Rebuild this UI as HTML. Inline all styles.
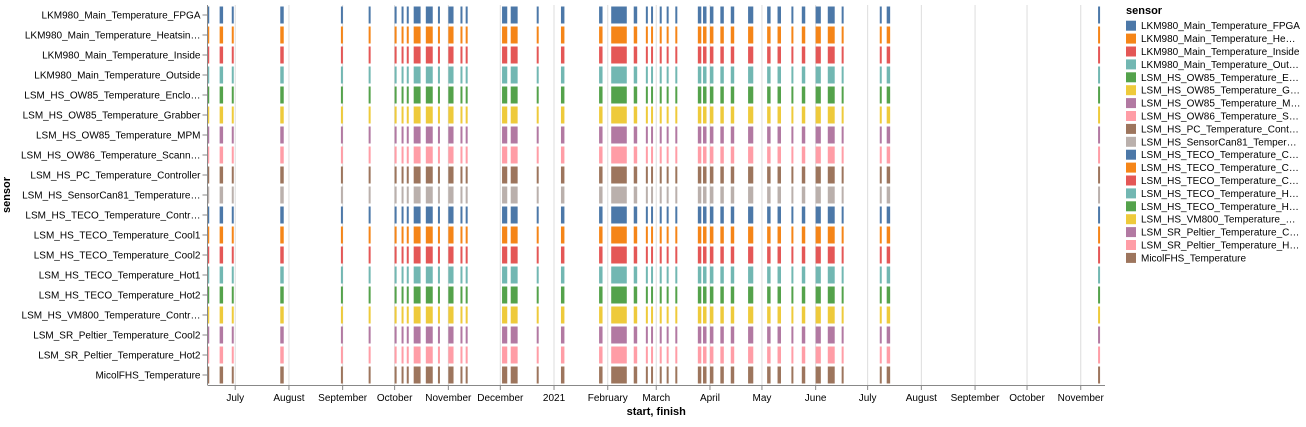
<!DOCTYPE html>
<html><head><meta charset="utf-8">
<style>
body{margin:0;background:#fff;font-family:"Liberation Sans",Arial,sans-serif;}
svg text{font-family:"Liberation Sans",Arial,sans-serif;}
</style></head>
<body>
<svg id="chart" width="1306" height="422" xmlns="http://www.w3.org/2000/svg"></svg>
<script>
const sensors = ["LKM980_Main_Temperature_FPGA","LKM980_Main_Temperature_Heatsin…","LKM980_Main_Temperature_Inside","LKM980_Main_Temperature_Outside","LSM_HS_OW85_Temperature_Enclo…","LSM_HS_OW85_Temperature_Grabber","LSM_HS_OW85_Temperature_MPM","LSM_HS_OW86_Temperature_Scann…","LSM_HS_PC_Temperature_Controller","LSM_HS_SensorCan81_Temperature…","LSM_HS_TECO_Temperature_Contr…","LSM_HS_TECO_Temperature_Cool1","LSM_HS_TECO_Temperature_Cool2","LSM_HS_TECO_Temperature_Hot1","LSM_HS_TECO_Temperature_Hot2","LSM_HS_VM800_Temperature_Contr…","LSM_SR_Peltier_Temperature_Cool2","LSM_SR_Peltier_Temperature_Hot2","MicolFHS_Temperature"];
const legendLabels = ["LKM980_Main_Temperature_FPGA","LKM980_Main_Temperature_He…","LKM980_Main_Temperature_Inside","LKM980_Main_Temperature_Out…","LSM_HS_OW85_Temperature_E…","LSM_HS_OW85_Temperature_G…","LSM_HS_OW85_Temperature_M…","LSM_HS_OW86_Temperature_S…","LSM_HS_PC_Temperature_Cont…","LSM_HS_SensorCan81_Temper…","LSM_HS_TECO_Temperature_C…","LSM_HS_TECO_Temperature_C…","LSM_HS_TECO_Temperature_C…","LSM_HS_TECO_Temperature_H…","LSM_HS_TECO_Temperature_H…","LSM_HS_VM800_Temperature_…","LSM_SR_Peltier_Temperature_C…","LSM_SR_Peltier_Temperature_H…","MicolFHS_Temperature"];
const palette = ["#4c78a8","#f58518","#e45756","#72b7b2","#54a24b","#eeca3b","#b279a2","#ff9da6","#9d755d","#bab0ac"];
const starts = ["2020-06-14","2020-06-22","2020-06-29","2020-07-27","2020-08-31","2020-09-16","2020-10-01","2020-10-05","2020-10-08","2020-10-12","2020-10-19","2020-10-26","2020-11-01","2020-11-08","2020-11-11","2020-12-02","2020-12-07","2020-12-22","2021-01-05","2021-01-27","2021-02-03","2021-02-16","2021-02-23","2021-02-26","2021-03-03","2021-03-07","2021-03-12","2021-03-25","2021-03-28","2021-04-01","2021-04-07","2021-04-13","2021-04-23","2021-05-04","2021-05-10","2021-05-18","2021-05-24","2021-06-01","2021-06-08","2021-06-16","2021-07-08","2021-07-12","2021-11-11"];
const finishes = ["2020-06-16","2020-06-24","2020-06-30","2020-07-29","2020-09-01","2020-09-17","2020-10-02","2020-10-06","2020-10-09","2020-10-16","2020-10-23","2020-10-27","2020-11-04","2020-11-09","2020-11-12","2020-12-05","2020-12-11","2020-12-23","2021-01-07","2021-01-29","2021-02-12","2021-02-18","2021-02-24","2021-02-27","2021-03-04","2021-03-08","2021-03-13","2021-03-27","2021-03-30","2021-04-03","2021-04-09","2021-04-15","2021-04-26","2021-05-06","2021-05-12","2021-05-19","2021-05-26","2021-06-04","2021-06-12","2021-06-17","2021-07-09","2021-07-14","2021-11-12"];
const tickDates = ["2020-07-01","2020-08-01","2020-09-01","2020-10-01","2020-11-01","2020-12-01","2021-01-01","2021-02-01","2021-03-01","2021-04-01","2021-05-01","2021-06-01","2021-07-01","2021-08-01","2021-09-01","2021-10-01","2021-11-01"];
const tickLabels = ["July","August","September","October","November","December","2021","February","March","April","May","June","July","August","September","October","November"];

const NS="http://www.w3.org/2000/svg";
const svg=document.getElementById('chart');
const L=207.5,R=1105,T=5,B=385;
const d0=Date.parse("2020-06-15"),d1=Date.parse("2021-11-15");
function x(s){return L+(Date.parse(s)-d0)/(d1-d0)*(R-L);}
const band=(B-T)/sensors.length;
function y(i){return T+i*band;}
function mk(tag,attrs,parent){const e=document.createElementNS(NS,tag);for(const k in attrs)e.setAttribute(k,attrs[k]);(parent||svg).appendChild(e);return e;}

// grid
tickDates.forEach((t,i)=>{
  const g=mk('line',{x1:x(t),x2:x(t),y1:T,y2:B,stroke:'#ddd','stroke-width':1});
  
  
});
// clip
const cp=mk('clipPath',{id:'clip'});mk('rect',{x:L,y:0,width:R-L,height:B},cp);
const gb=mk('g',{'clip-path':'url(#clip)'});


sensors.forEach((s,i)=>{
  starts.forEach((st,j)=>{
    const x0=x(st),x1=x(finishes[j]);
    const r=mk('rect',{x:x0,y:y(i)+1.5,width:Math.max(x1-x0,2),height:band-3,fill:palette[i%10]},gb);
    
    
  });
});
// axes
const xa=mk('line',{x1:L,x2:R,y1:B+0.5,y2:B+0.5,stroke:'#888'});


const ya=mk('line',{x1:L,x2:L,y1:T,y2:B,stroke:'#888'});


tickDates.forEach((t,i)=>{
  mk('line',{x1:x(t),x2:x(t),y1:B,y2:B+5,stroke:'#888'});
  const tx=mk('text',{x:x(t),y:B+16,'font-size':10,fill:'#000','text-anchor':'middle'});
  tx.textContent=tickLabels[i];
  
  
});
sensors.forEach((s,i)=>{
  const cy=y(i)+band/2;
  mk('line',{x1:L-5,x2:L,y1:cy,y2:cy,stroke:'#888'});
  const tx=mk('text',{x:L-7,y:cy+3.5,'font-size':10,fill:'#000','text-anchor':'end'});
  tx.textContent=s;
  
  
});
const xt=mk('text',{x:(L+R)/2,y:415,'font-size':11,'font-weight':'bold','text-anchor':'middle'});
xt.textContent='start, finish';


const yt=mk('text',{x:0,y:0,'font-size':11,'font-weight':'bold','text-anchor':'middle',transform:'translate(10,195) rotate(-90)'});
yt.textContent='sensor';


// legend
const lt=mk('text',{x:1126,y:14,'font-size':11,'font-weight':'bold'});
lt.textContent='sensor';


legendLabels.forEach((s,i)=>{
  const cy=25.7+i*12.9;
  const g=mk('g',{});
  
  
  mk('rect',{x:1126,y:cy-5,width:10,height:10,fill:palette[i%10]},g);
  const tx=mk('text',{x:1141,y:cy+3.5,'font-size':10,fill:'#000'},g);
  tx.textContent=s;
});
</script>
</body></html>
